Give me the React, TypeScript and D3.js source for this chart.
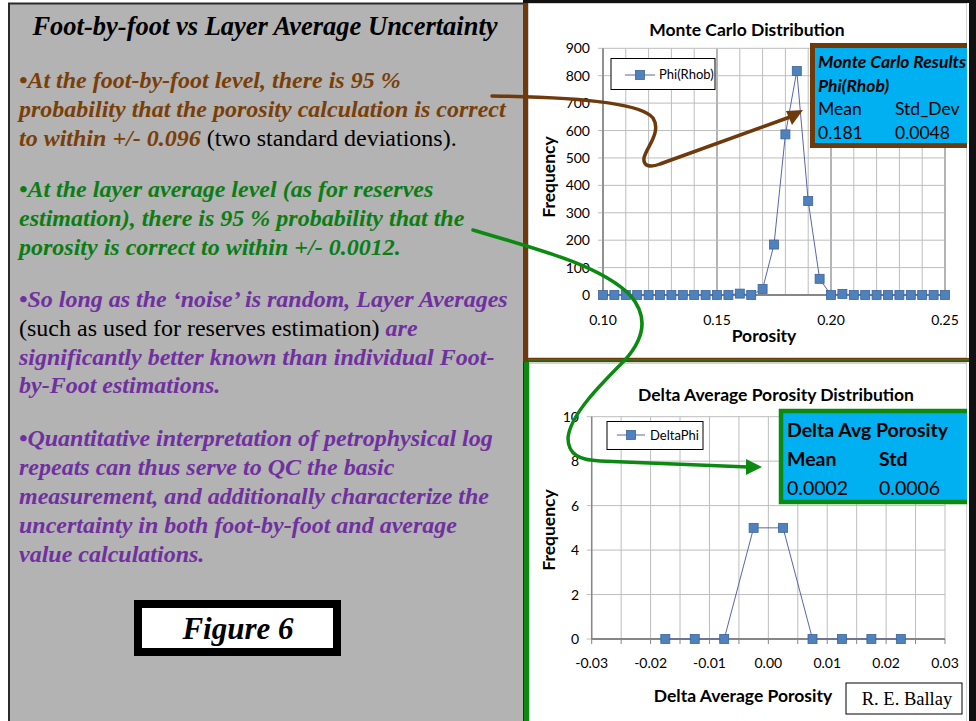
import React from "react";
import * as d3 from "d3";

// ---- Data ----
const mcPorosity = [0.100, 0.105, 0.110, 0.115, 0.120, 0.125, 0.130, 0.135, 0.140, 0.145, 0.150, 0.155, 0.160, 0.165, 0.170, 0.175, 0.180, 0.185, 0.190, 0.195, 0.200, 0.205, 0.210, 0.215, 0.220, 0.225, 0.230, 0.235, 0.240, 0.245, 0.250];
const mcFrequency = [0, 0, 0, 0, 0, 0, 0, 0, 0, 0, 0, 0, 5, 0, 22, 184, 586, 817, 343, 59, 0, 4, 0, 0, 0, 0, 0, 0, 0, 0, 0];
const mcXTicks = [0.10, 0.15, 0.20, 0.25];
const mcYTicks = [0, 100, 200, 300, 400, 500, 600, 700, 800, 900];

const dPorosity = [-0.0175, -0.0125, -0.0075, -0.0025, 0.0025, 0.0075, 0.0125, 0.0175, 0.0225];
const dFrequency = [0, 0, 0, 5, 5, 0, 0, 0, 0];
const dXTicks = [-0.03, -0.02, -0.01, 0.0, 0.01, 0.02, 0.03];
const dXTickLabels = ["-0.03", "-0.02", "-0.01", "0.00", "0.01", "0.02", "0.03"];
const dYTicks = [0, 2, 4, 6, 8, 10];

const SANS = "Lato, 'Open Sans', sans-serif";
const SERIF = "'Liberation Serif', 'Times New Roman', serif";

const BROWN = "#6e3a0c";
const BROWN_TXT = "#7a3e08";
const GREEN = "#0b8a12";
const GREEN_TXT = "#0b7d14";
const PURPLE = "#7030a0";
const CYAN = "#00b0f0";

const LINE = "#5b65a8";
const MARK_FILL = "#4f81bd";
const MARK_STROKE = "#3b639a";

const BOLD_SIZE = 17.5;

function Marker({ x, y }: { x: number; y: number }) {
  return <rect x={x - 4.5} y={y - 4.5} width={9} height={9} fill={MARK_FILL} stroke={MARK_STROKE} strokeWidth={0.8} />;
}

function TopChart() {
  const x = d3.scaleLinear().domain([0.10, 0.25]).range([603, 945]);
  const y = d3.scaleLinear().domain([0, 900]).range([295, 48.3]);
  const pts = mcPorosity.map((p, i) => [x(p), y(mcFrequency[i])] as [number, number]);
  const line = d3.line()(pts) || "";
  const vgrid = x.ticks(15);
  return (
    <g>
      {vgrid.map((v, i) => {
        const r = Math.round(v * 100) % 5;
        const major = r === 0;
        return <line key={"v" + i} x1={x(v)} x2={x(v)} y1={y(900)} y2={y(0)} stroke={major ? "#8c8c8c" : "#bdbdbd"} strokeWidth={major ? 1.3 : 1} />;
      })}
      {mcYTicks.map((t) => (
        <line key={"h" + t} x1={x(0.10) - 5} x2={x(0.25)} y1={y(t)} y2={y(t)} stroke="#bdbdbd" strokeWidth={1} />
      ))}
      <line x1={x(0.10)} x2={x(0.10)} y1={y(900)} y2={y(0)} stroke="#868686" strokeWidth={1.5} />
      <line x1={x(0.10)} x2={x(0.25)} y1={y(0)} y2={y(0)} stroke="#868686" strokeWidth={2} />
      {mcYTicks.map((t) => (
        <text key={"yl" + t} x={590} y={y(t) + 5} textAnchor="end" fontFamily={SANS} fontSize={14} fill="#000">{t}</text>
      ))}
      {mcXTicks.map((t) => (
        <text key={"xl" + t} x={x(t)} y={325} textAnchor="middle" fontFamily={SANS} fontSize={14} fill="#000">{t.toFixed(2)}</text>
      ))}
      <path d={line} fill="none" stroke={LINE} strokeWidth={1} />
      {pts.map((p, i) => <Marker key={"m" + i} x={p[0]} y={p[1]} />)}
      <text x={747} y={36} textAnchor="middle" fontFamily={SANS} fontSize={BOLD_SIZE} fontWeight="bold">Monte Carlo Distribution</text>
      <text x={764} y={342} textAnchor="middle" fontFamily={SANS} fontSize={BOLD_SIZE} fontWeight="bold">Porosity</text>
      <text transform="translate(555,177) rotate(-90)" textAnchor="middle" fontFamily={SANS} fontSize={BOLD_SIZE} fontWeight="bold">Frequency</text>
      {/* legend */}
      <rect x={611} y={58.5} width={104} height={31} fill="#fff" stroke="#000" strokeWidth={1} />
      <line x1={625} x2={655} y1={75} y2={75} stroke={LINE} strokeWidth={1} />
      <Marker x={640} y={75} />
      <text x={659} y={79} fontFamily={SANS} fontSize={13}>Phi(Rhob)</text>
    </g>
  );
}

function BottomChart() {
  const x = d3.scaleLinear().domain([-0.03, 0.03]).range([591.7, 945]);
  const y = d3.scaleLinear().domain([0, 10]).range([639, 416.7]);
  const pts = dPorosity.map((p, i) => [x(p), y(dFrequency[i])] as [number, number]);
  const line = d3.line()(pts) || "";
  const vgrid = x.ticks(12);
  return (
    <g>
      {vgrid.map((v, i) => (
        <line key={"v" + i} x1={x(v)} x2={x(v)} y1={y(10)} y2={y(0)} stroke="#bdbdbd" strokeWidth={1} />
      ))}
      {dYTicks.map((t) => (
        <line key={"h" + t} x1={x(-0.03) - 5} x2={x(0.03)} y1={y(t)} y2={y(t)} stroke="#bdbdbd" strokeWidth={1} />
      ))}
      {vgrid.map((v, i) => (
        <line key={"t" + i} x1={x(v)} x2={x(v)} y1={y(0)} y2={y(0) + 5} stroke="#868686" strokeWidth={1} />
      ))}
      <line x1={x(-0.03)} x2={x(-0.03)} y1={y(10)} y2={y(0)} stroke="#868686" strokeWidth={1.5} />
      <line x1={x(-0.03)} x2={x(0.03)} y1={y(0)} y2={y(0)} stroke="#868686" strokeWidth={2} />
      {dYTicks.map((t) => (
        <text key={"yl" + t} x={579} y={y(t) + 5} textAnchor="end" fontFamily={SANS} fontSize={14}>{t}</text>
      ))}
      {dXTicks.map((t, i) => (
        <text key={"xl" + i} x={x(t)} y={668} textAnchor="middle" fontFamily={SANS} fontSize={14}>{dXTickLabels[i]}</text>
      ))}
      <path d={line} fill="none" stroke={LINE} strokeWidth={1} />
      {pts.map((p, i) => <Marker key={"m" + i} x={p[0]} y={p[1]} />)}
      <text x={776} y={401} textAnchor="middle" fontFamily={SANS} fontSize={BOLD_SIZE} fontWeight="bold">Delta Average Porosity Distribution</text>
      <text x={743} y={702} textAnchor="middle" fontFamily={SANS} fontSize={BOLD_SIZE} fontWeight="bold">Delta Average Porosity</text>
      <text transform="translate(555,530) rotate(-90)" textAnchor="middle" fontFamily={SANS} fontSize={BOLD_SIZE} fontWeight="bold">Frequency</text>
      {/* legend */}
      <rect x={607} y={421.5} width={96} height={28} fill="#fff" stroke="#000" strokeWidth={1} />
      <line x1={617} x2={645} y1={435} y2={435} stroke={LINE} strokeWidth={1} />
      <Marker x={631} y={435} />
      <text x={650} y={439.5} fontFamily={SANS} fontSize={13}>DeltaPhi</text>
      {/* credit */}
      <rect x={846} y={683} width={116} height={31} fill="#fff" stroke="#000" strokeWidth={1} />
      <text x={907} y={705} textAnchor="middle" fontFamily={SERIF} fontSize={18.5}>R. E. Ballay</text>
    </g>
  );
}

export default function App() {
  return (
    <svg width={976} height={721} viewBox="0 0 976 721" style={{ position: "absolute", left: 0, top: 0, background: "#fff" }}>
      <defs>
        <clipPath id="rightClip">
          <rect x={523} y={0} width={444} height={721} />
        </clipPath>
      </defs>
      {/* Left panel */}
      <rect x={9} y={3.5} width={515} height={720} fill="#b3b3b3" stroke="#2a2a2a" strokeWidth={2} />
      <text x={265} y={35} textAnchor="middle" fontFamily={SERIF} fontSize={26.5} fontWeight="bold" fontStyle="italic" fill="#000">Foot-by-foot vs Layer Average Uncertainty</text>

      <g fontFamily={SERIF} fontSize={24} fontWeight="bold" fontStyle="italic">
        <text x={19} y={88} fill={BROWN_TXT}>•At the foot-by-foot level, there is 95 %</text>
        <text x={19} y={117} fill={BROWN_TXT}>probability that the porosity calculation is correct</text>
        <text x={19} y={146} fill={BROWN_TXT}>to within +/- 0.096<tspan fill="#000" fontWeight="normal" fontStyle="normal"> (two standard deviations).</tspan></text>

        <text x={19} y={197} fill={GREEN_TXT}>•At the layer average level (as for reserves</text>
        <text x={19} y={226} fill={GREEN_TXT}>estimation), there is 95 % probability that the</text>
        <text x={19} y={255} fill={GREEN_TXT}>porosity is correct to within +/- 0.0012.</text>

        <text x={19} y={307} fill={PURPLE}>•So long as the ‘noise’ is random, Layer Averages</text>
        <text x={19} y={336} fill="#000" fontWeight="normal" fontStyle="normal">(such as used for reserves estimation)<tspan fill={PURPLE} fontWeight="bold" fontStyle="italic"> are</tspan></text>
        <text x={19} y={365} fill={PURPLE}>significantly better known than individual Foot-</text>
        <text x={19} y={393} fill={PURPLE}>by-Foot estimations.</text>

        <text x={19} y={446} fill={PURPLE}>•Quantitative interpretation of petrophysical log</text>
        <text x={19} y={475} fill={PURPLE}>repeats can thus serve to QC the basic</text>
        <text x={19} y={504} fill={PURPLE}>measurement, and additionally characterize the</text>
        <text x={19} y={533} fill={PURPLE}>uncertainty in both foot-by-foot and average</text>
        <text x={19} y={562} fill={PURPLE}>value calculations.</text>
      </g>

      <rect x={138} y={604} width={199} height={48} fill="#fff" stroke="#000" strokeWidth={8} />
      <text x={238} y={639} textAnchor="middle" fontFamily={SERIF} fontSize={31} fontWeight="bold" fontStyle="italic">Figure 6</text>

      {/* Right panels */}
      <g clipPath="url(#rightClip)">
        <rect x={528} y={3} width={439} height={355} fill="#fff" stroke="#a6a6a6" strokeWidth={1} />
        <rect x={529} y={363} width={438} height={360} fill="#fff" stroke="#a6a6a6" strokeWidth={1} />
        <TopChart />
        <BottomChart />
        {/* result boxes */}
        <rect x={812.5} y={45.5} width={170} height={100} fill={CYAN} stroke={BROWN} strokeWidth={5} />
        <g fontFamily={SANS} fontSize={17.5} fill="#000">
          <text x={818} y={68} fontWeight="bold" fontStyle="italic">Monte Carlo Results</text>
          <text x={818} y={92} fontWeight="bold" fontStyle="italic">Phi(Rhob)</text>
          <text x={818} y={115}>Mean</text>
          <text x={895} y={115}>Std_Dev</text>
          <text x={818} y={139}>0.181</text>
          <text x={895} y={139}>0.0048</text>
        </g>
        <rect x={781} y={411} width={200} height={91} fill={CYAN} stroke={GREEN} strokeWidth={4.5} />
        <g fontFamily={SANS} fontSize={19.5} fill="#000">
          <text x={787} y={437} fontWeight="bold">Delta Avg Porosity</text>
          <text x={787} y={466} fontWeight="bold">Mean</text>
          <text x={879} y={466} fontWeight="bold">Std</text>
          <text x={787} y={495}>0.0002</text>
          <text x={879} y={495}>0.0006</text>
        </g>
      </g>
      {/* panel borders */}
      <rect x={523} y={0} width={5} height={362} fill={BROWN} />
      <rect x={528} y={358} width={441} height={4} fill={BROWN} />
      <rect x={524} y={362} width={5} height={359} fill={GREEN} />
      <rect x={528} y={359} width={441} height={1.5} fill={GREEN} />
      <rect x={523} y={0} width={453} height={3} fill="#111" />
      <rect x={969} y={0} width={7} height={721} fill="#111" />

      {/* arrows */}
      <path d="M 492 96 C 570 97, 640 102, 653 118 C 662 132, 646 148, 644 158 C 643 166, 650 168, 660 164 L 790 117" fill="none" stroke={BROWN} strokeWidth={3.5} strokeLinecap="round" />
      <polygon points="803,110 786,111 792,125" fill={BROWN} />
      <path d="M 473 230 C 540 250, 600 265, 630 295 C 650 318, 643 340, 625 360 C 600 385, 570 415, 568 438 C 568 455, 580 460, 600 461 L 748 467" fill="none" stroke={GREEN} strokeWidth={3.5} strokeLinecap="round" />
      <polygon points="762,467 746,459 746,475" fill={GREEN} />
    </svg>
  );
}
